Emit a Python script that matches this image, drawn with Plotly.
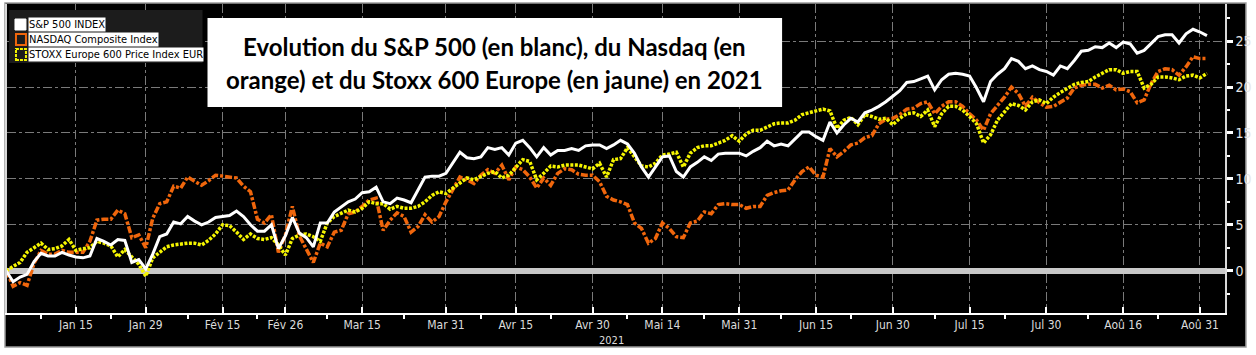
import pandas as pd
import plotly.graph_objects as go

# ---------------- data (cumulative % change since 31/12/2020, one value per trading day) -------------
series_names = ["S&P 500 INDEX", "NASDAQ Composite Index", "STOXX Europe 600 Price Index EUR"]

sp500 = [
    0.0, -1.2, -0.7, -0.4, 1.0, 1.9, 1.6, 1.6, 2.0, 1.7,
    1.5, 1.4, 1.6, 3.5, 3.2, 2.8, 3.4, 3.3, 0.9, 1.2,
    0.2, 1.8, 3.7, 4.0, 5.3, 5.1, 5.9, 5.4, 5.0, 5.3,
    5.8, 5.9, 6.0, 6.5, 5.9, 5.0, 4.3, 4.3, 5.0, 2.4,
    3.8, 5.8, 4.1, 3.6, 2.6, 5.2, 5.2, 6.4, 7.0, 7.5,
    7.8, 8.5, 8.6, 9.1, 7.5, 7.3, 7.9, 7.7, 7.4, 8.8,
    10.2, 10.3, 10.3, 10.6, 11.7, 12.9, 12.3, 12.2, 12.4, 13.4,
    13.2, 13.4, 12.6, 13.9, 14.2, 13.4, 12.4, 13.4, 12.6, 13.1,
    13.1, 13.3, 13.1, 13.6, 13.7, 13.7, 13.3, 13.7, 14.2, 13.8,
    12.8, 11.3, 10.2, 11.3, 12.4, 12.5, 10.8, 10.2, 11.3, 11.8,
    12.4, 12.0, 12.7, 12.8, 12.8, 12.8, 12.5, 13.0, 13.4, 14.1,
    13.6, 13.8, 13.6, 14.4, 15.1, 15.1, 14.6, 14.2, 16.2, 15.0,
    15.9, 16.6, 16.2, 17.2, 17.5, 17.9, 18.4, 19.0, 19.6, 20.5,
    20.6, 20.9, 21.2, 19.7, 20.8, 21.4, 21.5, 21.4, 21.2, 19.9,
    18.4, 20.6, 21.4, 22.0, 23.1, 22.8, 22.0, 22.3, 21.9, 21.7,
    21.3, 22.3, 22.0, 22.9, 23.9, 24.0, 24.4, 24.3, 24.8, 24.3,
    24.9, 24.7, 23.7, 24.0, 24.8, 25.5, 25.7, 25.7, 24.8, 25.8,
    26.3, 26.0, 25.6,
]

nasdaq = [
    0.0, -1.7, -1.3, -1.6, 0.8, 2.2, 1.8, 1.8, 2.2, 2.0,
    2.0, 2.0, 3.2, 5.5, 5.6, 5.6, 6.6, 6.2, 3.6, 3.9,
    2.5, 5.7, 7.3, 7.5, 9.2, 9.0, 10.2, 9.7, 9.3, 9.8,
    10.4, 10.3, 10.2, 10.1, 9.2, 8.6, 5.6, 5.2, 6.1, 2.0,
    3.9, 7.0, 3.8, 2.4, 0.9, 3.0, 2.6, 4.2, 4.4, 6.2,
    6.4, 7.0, 7.7, 7.9, 4.4, 5.5, 6.3, 5.9, 4.2, 4.8,
    6.1, 5.3, 5.9, 7.5, 8.8, 10.2, 9.9, 9.5, 10.4, 11.0,
    10.6, 11.5, 9.9, 11.3, 11.0, 10.2, 9.0, 10.1, 9.3, 10.6,
    11.1, 11.0, 10.5, 10.4, 10.4, 9.7, 8.1, 7.7, 7.5, 7.2,
    5.2, 4.6, 3.0, 3.5, 5.2, 4.6, 3.7, 3.6, 5.2, 5.4,
    6.4, 6.2, 7.2, 7.3, 7.2, 7.2, 6.8, 7.0, 7.0, 8.2,
    8.5, 8.7, 8.8, 9.9, 10.8, 11.3, 10.4, 10.2, 13.3, 12.4,
    13.0, 13.7, 13.9, 14.5, 14.7, 16.0, 16.5, 16.6, 17.0, 17.6,
    17.7, 18.2, 18.4, 17.1, 17.9, 18.4, 18.4, 17.9, 17.1, 16.4,
    15.3, 17.1, 18.0, 18.9, 20.0, 19.3, 17.9, 18.9, 18.3, 17.8,
    17.9, 18.4, 18.8, 19.9, 20.2, 20.3, 20.3, 19.9, 20.2, 19.7,
    19.8, 19.5, 18.3, 18.6, 20.4, 21.7, 22.0, 21.9, 21.3, 22.2,
    23.3, 23.1, 23.1,
]

stoxx600 = [
    0.0, 0.5, 0.9, 2.0, 2.5, 3.0, 2.3, 2.4, 2.7, 3.4,
    2.2, 2.4, 2.5, 3.2, 3.0, 2.7, 1.5, 2.3, 1.5, 0.7,
    -0.6, 1.4, 2.0, 2.6, 2.8, 2.9, 3.0, 3.0, 2.8, 3.3,
    4.0, 5.0, 4.9, 4.2, 3.4, 4.0, 3.5, 3.4, 3.6, 2.8,
    1.7, 3.5, 3.9, 4.0, 3.7, 3.2, 5.2, 5.9, 6.2, 6.6,
    6.4, 6.8, 7.5, 7.3, 7.3, 6.7, 7.0, 6.8, 6.8, 7.0,
    7.5, 8.2, 8.6, 8.4, 9.0, 9.5, 10.1, 9.9, 10.3, 10.6,
    10.8, 10.1, 10.4, 11.3, 12.1, 11.9, 9.9, 10.6, 11.4, 11.3,
    11.5, 11.5, 11.5, 11.3, 11.1, 11.7, 10.2, 12.1, 12.2, 13.4,
    12.4, 11.4, 11.3, 11.7, 12.6, 12.7, 12.9, 11.3, 12.8, 13.4,
    13.6, 13.6, 13.9, 14.2, 14.7, 14.1, 14.9, 15.3, 15.3, 15.7,
    16.0, 16.1, 16.1, 16.4, 17.0, 17.2, 17.4, 17.6, 17.4, 15.5,
    16.4, 16.7, 15.9, 17.0, 16.8, 16.5, 16.6, 15.9, 16.6, 17.1,
    17.2, 16.8, 17.5, 15.7, 17.1, 17.9, 17.9, 17.5, 16.8, 16.0,
    13.9, 14.8, 16.4, 17.3, 18.2, 18.0, 17.5, 18.4, 18.6, 18.2,
    18.9, 19.4, 19.9, 20.3, 20.5, 20.6, 21.1, 21.5, 21.9, 21.9,
    21.5, 21.7, 21.7, 19.9, 20.3, 21.1, 21.1, 21.0, 20.8, 21.2,
    21.3, 21.0, 21.5,
]

first_day = "2020-12-31"
last_day = "2021-09-01"
market_holidays = ["2021-01-01", "2021-04-02"]

tick_dates = ["2021-01-15", "2021-01-29", "2021-02-15", "2021-02-26", "2021-03-15", "2021-03-31",
              "2021-04-15", "2021-04-30", "2021-05-14", "2021-05-31", "2021-06-15", "2021-06-30",
              "2021-07-15", "2021-07-30", "2021-08-16", "2021-08-31"]
tick_labels = ["Jan 15", "Jan 29", "Fév 15", "Fév 26", "Mar 15", "Mar 31", "Avr 15", "Avr 30",
               "Mai 14", "Mai 31", "Jun 15", "Jun 30", "Jul 15", "Jul 30", "Aoû 16", "Aoû 31"]
minor_tick_dates = ["2021-01-08", "2021-01-22", "2021-02-08", "2021-02-22", "2021-03-08", "2021-03-23",
                    "2021-04-08", "2021-04-22", "2021-05-07", "2021-05-24", "2021-06-08", "2021-06-22",
                    "2021-07-08", "2021-07-22", "2021-08-09", "2021-08-23"]
y_ticks = [0, 5, 10, 15, 20, 25]
y_minor_ticks = [-2.5, 2.5, 7.5, 12.5, 17.5, 22.5, 27.5]

title_lines = ["Evolution du S&P 500 (en blanc), du Nasdaq (en",
               "orange) et du Stoxx 600 Europe (en jaune) en 2021"]
year_label = "2021"

# ---------------- trading calendar ----------------
days = pd.bdate_range(first_day, last_day)
days = days[~days.isin(pd.to_datetime(market_holidays))]
assert len(days) == len(sp500) == len(nasdaq) == len(stoxx600)

# ---------------- styles ----------------
WHITE = "#ffffff"
ORANGE = "#f0660c"
YELLOW = "#f5f500"
GRID = "#7a7a7a"
AXIS_FONT = "Liberation Sans Narrow, DejaVu Sans Condensed, Arial Narrow, sans-serif"
TITLE_FONT = "Lato, Carlito, Calibri, sans-serif"

# plot-area pixel geometry (for overlay elements only)
W, H = 1256, 355
PL, PR, PT, PB = 7, 1228, 4, 313


def fx(x):
    return (x - PL) / (PR - PL)


def fy(y):
    return (PB - y) / (PB - PT)


fig = go.Figure()
fig.add_trace(go.Scatter(x=days, y=nasdaq, name=series_names[1], mode="lines",
                         line=dict(color=ORANGE, width=3.5, dash="7px,2px,3px,2px")))
fig.add_trace(go.Scatter(x=days, y=stoxx600, name=series_names[2], mode="lines",
                         line=dict(color=YELLOW, width=3.5, dash="3px,1.5px")))
fig.add_trace(go.Scatter(x=days, y=sp500, name=series_names[0], mode="lines",
                         line=dict(color=WHITE, width=3)))

fig.update_layout(
    width=W, height=H,
    margin=dict(l=PL, r=W - PR, t=PT, b=H - PB),
    paper_bgcolor="white", plot_bgcolor="black",
    showlegend=False,
)

fig.update_xaxes(
    type="date",
    range=["2020-12-31 03:00", "2021-09-03 14:00"],
    rangebreaks=[dict(bounds=["sat", "mon"]), dict(values=market_holidays)],
    tickmode="array", tickvals=tick_dates, ticktext=tick_labels,
    ticks="inside", ticklen=6, tickcolor=WHITE, tickwidth=1.5,
    showgrid=True, gridcolor=GRID, griddash="dashdot", gridwidth=1,
    showline=True, linecolor=WHITE, linewidth=1.5,
    tickfont=dict(family=AXIS_FONT, size=12, color="#dcdcdc"),
    ticklabelstandoff=0,
    minor=dict(tickvals=minor_tick_dates, ticks="outside", ticklen=4, tickcolor=WHITE,
               tickwidth=1.5, showgrid=False),
)

fig.update_yaxes(
    side="right",
    range=[-4.61, 29.05],
    tickmode="array", tickvals=y_ticks, ticktext=[str(v) for v in y_ticks],
    ticks="outside", ticklen=6, tickwidth=3, tickcolor=WHITE,
    showgrid=True, gridcolor=GRID, griddash="dashdot", gridwidth=1,
    zeroline=True, zerolinecolor="#c8c8c8", zerolinewidth=6,
    showline=True, linecolor="#d8d8d8", linewidth=1.5, mirror=True,
    tickfont=dict(family=AXIS_FONT, size=14, color="#e6e6e6"),
    minor=dict(tickvals=y_minor_ticks, ticks="outside", ticklen=3, tickcolor=WHITE,
               tickwidth=1.5, showgrid=False),
)

shapes = []
# black chart frame
shapes.append(dict(type="rect", xref="paper", yref="paper", layer="below",
                   x0=fx(5), x1=fx(1249), y0=fy(347), y1=fy(3),
                   fillcolor="black", line=dict(color="#9a9a9a", width=1.5)))
# title box
shapes.append(dict(type="rect", xref="paper", yref="paper", layer="above",
                   x0=fx(208), x1=fx(784), y0=fy(107), y1=fy(18),
                   fillcolor="white", line=dict(width=0)))
# legend box
shapes.append(dict(type="rect", xref="paper", yref="paper", layer="above",
                   x0=fx(9), x1=fx(203), y0=fy(63), y1=fy(10),
                   fillcolor="#1c1c1c", line=dict(width=0)))
# legend swatches
shapes.append(dict(type="rect", xref="paper", yref="paper", layer="above",
                   x0=fx(15), x1=fx(26), y0=fy(30), y1=fy(19),
                   fillcolor=WHITE, line=dict(color=WHITE, width=1)))
shapes.append(dict(type="rect", xref="paper", yref="paper", layer="above",
                   x0=fx(16), x1=fx(26), y0=fy(45), y1=fy(34),
                   fillcolor="#1c1c1c", line=dict(color=ORANGE, width=2)))
shapes.append(dict(type="rect", xref="paper", yref="paper", layer="above",
                   x0=fx(16), x1=fx(26), y0=fy(60), y1=fy(49),
                   fillcolor="#1c1c1c", line=dict(color=YELLOW, width=2, dash="3px,1px")))

annotations = []
for name, yc in zip(series_names, [24.5, 39.5, 54.5]):
    annotations.append(dict(text=name, xref="paper", yref="paper", x=fx(28), y=fy(yc),
                            xanchor="left", yanchor="middle", showarrow=False,
                            bgcolor="white", borderpad=0,
                            font=dict(family=AXIS_FONT, size=11, color="black")))
for line, yc in zip(title_lines, [46, 80]):
    annotations.append(dict(text="<b>" + line + "</b>", xref="paper", yref="paper",
                            x=fx(496), y=fy(yc), xanchor="center", yanchor="middle",
                            showarrow=False,
                            font=dict(family=TITLE_FONT, size=24, color="black")))
annotations.append(dict(text=year_label, xref="paper", yref="paper", x=fx(613), y=fy(340),
                        xanchor="center", yanchor="middle", showarrow=False,
                        font=dict(family=AXIS_FONT, size=11, color="#dcdcdc")))

fig.update_layout(shapes=shapes, annotations=annotations)

fig.write_html("out.html", include_plotlyjs=True, config=dict(displayModeBar=False),
               post_script="document.body.style.margin='0';document.body.style.overflow='hidden';")
